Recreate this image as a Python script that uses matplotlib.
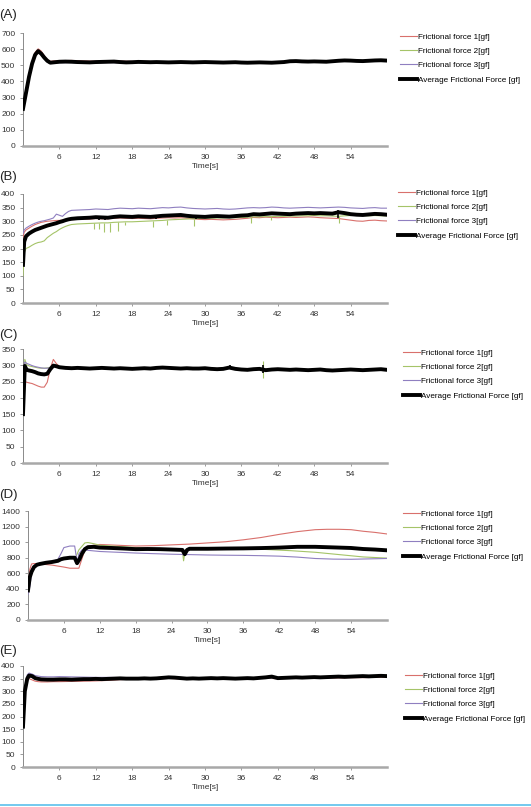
import numpy as np
import matplotlib
matplotlib.use("Agg")
import matplotlib.pyplot as plt

plt.rcParams['font.family'] = ['Liberation Sans', 'DejaVu Sans']

labels = ["Frictional force 1[gf]", "Frictional force 2[gf]", "Frictional force 3[gf]",
          "Average Frictional Force [gf]"]
colors = ["#d9706c", "#a5c468", "#8f7fc0", "#000000"]
xticks = [6, 12, 18, 24, 30, 36, 42, 48, 54]
panel_titles = ["(A)", "(B)", "(C)", "(D)", "(E)"]

# ---------------- Panel A ----------------
tA = [0, 0.5, 1, 1.5, 2, 2.5, 3, 3.5, 4, 4.5, 5] + list(range(6, 61))
A_avg = [230, 330, 430, 510, 565, 588, 572, 548, 528, 516, 518,
         522, 523, 522, 520, 519, 518, 520, 521, 522, 523, 520, 518, 519, 521, 520, 519, 520, 519,
         518, 519, 520, 519, 518, 519, 520, 519, 518, 517, 518, 519, 517, 516, 517, 518, 517, 516,
         518, 520, 525, 526, 524, 523, 524, 523, 522, 525, 528, 530, 529, 527, 526, 528, 530, 531, 529]
tA2 = [0, 0.5, 1, 1.5, 2, 2.5, 3, 3.5, 4, 4.5, 5, 6, 8, 10, 12, 14, 16, 18, 20, 22, 24, 26, 28,
       30, 32, 34, 36, 38, 40, 42, 44, 46, 48, 50, 52, 54, 56, 58, 60]
A_f1 = [240, 340, 442, 522, 580, 602, 588, 560, 536, 524, 527, 528, 530, 527, 525, 527, 526, 524,
        524, 523, 522, 523, 522, 523, 522, 521, 521, 520, 520, 521, 527, 527, 526, 526, 530, 531,
        529, 532, 531]
A_f2 = [225, 325, 425, 505, 560, 582, 566, 542, 522, 512, 514, 517, 518, 515, 516, 518, 516, 515,
        516, 516, 515, 515, 515, 516, 515, 514, 514, 513, 513, 515, 522, 521, 521, 520, 525, 526,
        524, 527, 527]
A_f3 = [228, 328, 428, 507, 562, 580, 564, 540, 520, 511, 513, 516, 517, 514, 515, 517, 515, 514,
        515, 515, 514, 514, 514, 515, 514, 513, 513, 512, 512, 514, 521, 520, 520, 519, 524, 525,
        523, 526, 526]

# ---------------- Panel B ----------------
tB = [0, 0.2, 0.5, 1, 1.5, 2, 2.5, 3, 3.5, 4, 4.5, 5, 5.5, 6, 6.5, 7, 7.5, 8] + list(range(9, 61))
B_avg = [140, 225, 245, 255, 262, 268, 272, 276, 280, 284, 287, 290, 293, 297, 300, 304, 307, 309,
         311, 312, 313, 315, 314, 313, 316, 318, 317, 316, 318, 317, 316, 318, 320, 321, 322, 323,
         320, 318, 317, 316, 318, 319, 318, 317, 319, 321, 322, 326, 325, 327, 329, 328, 327, 326,
         328, 329, 330, 329, 330, 329, 328, 333, 330, 326, 324, 323, 325, 327, 326, 324]
B_f1 = [240, 260, 268, 275, 282, 288, 292, 296, 298, 300, 301, 302, 303, 303, 304, 305, 306, 306,
        307, 308, 308, 310, 309, 309, 311, 312, 311, 310, 311, 310, 309, 311, 312, 313, 312, 313,
        311, 309, 307, 306, 307, 306, 305, 306, 307, 309, 311, 314, 313, 315, 314, 313, 314, 315,
        314, 315, 316, 315, 313, 312, 311, 310, 307, 304, 301, 300, 303, 304, 302, 301]
B_f2 = [100, 185, 200, 205, 212, 218, 222, 224, 228, 240, 248, 256, 262, 270, 276, 281, 285, 288,
        290, 291, 292, 293, 294, 294, 296, 297, 298, 298, 299, 300, 301, 302, 303, 305, 306, 307,
        308, 309, 310, 311, 311, 312, 312, 313, 313, 314, 315, 316, 316, 317, 317, 318, 318, 319,
        319, 320, 320, 321, 320, 320, 319, 318, 320, 321, 322, 321, 320, 321, 320, 320]
B_f3 = [255, 268, 275, 282, 288, 293, 297, 300, 302, 305, 308, 312, 326, 322, 318, 328, 336, 340,
        341, 342, 343, 345, 344, 343, 346, 348, 347, 346, 348, 347, 346, 348, 350, 349, 351, 352,
        349, 347, 346, 345, 346, 347, 345, 344, 345, 347, 349, 350, 349, 350, 352, 351, 349, 348,
        349, 350, 351, 350, 349, 350, 351, 352, 351, 349, 348, 347, 349, 350, 348, 348]
B_spk_t = [11.7, 12.6, 13.4, 14.3, 15.6, 16.8, 21.5, 23.8, 28.2, 37.5, 40.8, 52.1]
B_spk_lo = [270, 272, 262, 260, 265, 285, 278, 288, 283, 292, 305, 292]
B_spk_hi = [293, 294, 294, 294, 296, 297, 302, 305, 309, 316, 317, 318]
B_avg_spk_t = [12.5, 13.5, 22.0, 28.5, 52.0]
B_avg_spk_lo = [305, 304, 308, 308, 312]
B_avg_spk_hi = [318, 318, 322, 322, 340]

# ---------------- Panel C ----------------
tC = [0, 0.3, 0.6, 1, 1.5, 2, 2.5, 3, 3.5, 4, 4.5, 5, 5.5] + list(range(6, 61))
C_avg = [150, 298, 286, 284, 282, 279, 275, 273, 272, 274, 288, 299, 297,
         294, 292, 291, 292, 291, 290, 291, 292, 291, 290, 291, 290, 289, 290, 291, 290, 292, 293,
         292, 291, 290, 291, 290, 290, 291, 289, 288, 289, 293, 289, 287, 286, 288, 289, 285, 287,
         288, 287, 286, 287, 286, 285, 286, 287, 285, 284, 285, 286, 287, 286, 285, 286, 287, 288, 286]
tC2 = [0, 0.3, 0.6, 1, 1.5, 2, 2.5, 3, 3.5, 4, 4.5, 5, 5.5, 6, 8, 10, 12, 14, 16, 18, 20, 22, 24,
       26, 28, 30, 32, 34, 36, 38, 40, 42, 44, 46, 48, 50, 52, 54, 56, 58, 60]
C_f1 = [160, 250, 248, 246, 244, 240, 236, 233, 233, 248, 290, 318, 305, 296, 293, 293, 292, 293,
        292, 291, 292, 293, 293, 292, 291, 291, 290, 291, 289, 289, 288, 289, 288, 287, 287, 286,
        286, 287, 286, 287, 287]
C_f2 = [150, 318, 302, 298, 296, 294, 292, 291, 291, 292, 294, 300, 297, 294, 292, 291, 290, 291,
        290, 289, 290, 291, 291, 290, 289, 290, 288, 292, 287, 288, 286, 287, 286, 285, 286, 285,
        285, 286, 285, 286, 286]
C_f3 = [165, 310, 306, 303, 299, 296, 294, 292, 291, 291, 293, 298, 296, 294, 292, 291, 291, 291,
        290, 290, 291, 291, 292, 290, 290, 290, 289, 290, 287, 288, 286, 287, 286, 286, 286, 285,
        285, 286, 286, 286, 287]
C_spk_t = [39.5]
C_spk_lo = [262]
C_spk_hi = [312]
C_avg_spk_t = [39.5, 34.2]
C_avg_spk_lo = [275, 288]
C_avg_spk_hi = [302, 300]

# ---------------- Panel D ----------------
tD_avg = [0, 0.3, 0.6, 1, 1.5, 2, 3, 4, 5, 5.5, 6, 7, 7.8, 8.2, 8.6, 9, 9.5, 10, 11, 12, 14, 16,
          18, 20, 22, 24, 25.8, 26.2, 26.6, 27, 30, 33, 36, 39, 42, 45, 48, 50, 52, 54, 56, 58, 60]
D_avg = [380, 550, 620, 680, 710, 720, 735, 745, 760, 780, 790, 800, 800, 730, 780, 850, 910, 935,
         940, 930, 925, 918, 910, 912, 910, 905, 900, 845, 900, 915, 915, 918, 920, 924, 930, 940,
         940, 935, 930, 925, 912, 905, 895]
tD1 = [0, 0.3, 0.6, 1, 2, 4, 6, 7, 8.5, 9.5, 10, 12, 15, 18, 21, 24, 27, 30, 33, 36, 39, 42, 45,
       48, 50, 52, 54, 56, 58, 60]
D_f1 = [400, 650, 720, 725, 720, 705, 680, 665, 665, 900, 950, 970, 960, 950, 955, 965, 975, 990,
        1005, 1030, 1060, 1100, 1135, 1160, 1165, 1165, 1160, 1140, 1125, 1105]
tD2 = [0, 0.3, 0.6, 1, 2, 3, 4, 5, 6, 7, 8, 8.5, 9.5, 10, 11, 12, 15, 18, 21, 24, 25.8, 26.0,
       26.3, 28, 30, 33, 36, 40, 44, 48, 52, 56, 60]
D_f2 = [350, 500, 620, 680, 720, 740, 750, 760, 790, 800, 810, 900, 990, 995, 980, 960, 945, 930,
        920, 910, 900, 760, 900, 915, 920, 920, 920, 905, 890, 870, 840, 810, 795]
tD3 = [0, 0.3, 0.6, 1, 2, 4, 5, 5.5, 6, 7, 7.8, 8.1, 8.3, 8.5, 9, 10, 12, 15, 18, 21, 24, 27, 30,
       33, 36, 39, 42, 45, 48, 51, 54, 57, 60]
D_f3 = [330, 430, 600, 690, 720, 750, 780, 850, 930, 950, 950, 800, 760, 850, 900, 895, 880, 870,
        860, 852, 845, 840, 835, 832, 830, 826, 820, 808, 790, 782, 780, 785, 790]

# ---------------- Panel E ----------------
tE = [0, 0.3, 0.7, 1, 1.5, 2, 2.5, 3, 4, 5] + list(range(6, 61))
E_avg = [160, 300, 350, 362, 360, 352, 349, 347, 346, 346,
         347, 347, 346, 347, 348, 348, 349, 348, 349, 350, 351, 350, 350, 350, 351, 350, 351, 353,
         355, 354, 352, 350, 351, 350, 351, 352, 351, 352, 351, 350, 351, 352, 351, 353, 355, 358,
         352, 353, 354, 355, 354, 355, 356, 355, 356, 357, 358, 357, 358, 359, 360, 359, 360, 361, 360]
tE2 = [0, 0.3, 0.7, 1, 1.5, 2, 2.5, 3, 4, 5, 6, 8, 10, 12, 14, 16, 18, 20, 22, 24, 26, 28, 30, 32,
       34, 36, 38, 40, 42, 44, 46, 48, 50, 52, 54, 56, 58, 60]
E_f1 = [170, 290, 345, 350, 345, 340, 338, 337, 337, 338, 338, 339, 340, 341, 343, 346, 348, 349,
        349, 351, 349, 349, 350, 350, 349, 350, 351, 351, 350, 351, 352, 352, 353, 353, 354, 354,
        355, 356]
E_f2 = [165, 305, 360, 368, 362, 355, 352, 350, 349, 349, 350, 350, 351, 351, 351, 350, 350, 351,
        351, 354, 352, 351, 352, 351, 352, 350, 352, 353, 352, 353, 354, 355, 356, 357, 358, 359,
        360, 359]
E_f3 = [168, 310, 365, 372, 368, 362, 360, 358, 357, 357, 358, 357, 356, 355, 355, 354, 351, 351,
        351, 354, 352, 351, 352, 351, 352, 350, 352, 353, 352, 353, 354, 355, 356, 357, 358, 359,
        360, 360]

panels = [
    dict(series=[(tA2, A_f1), (tA2, A_f2), (tA2, A_f3), (tA, A_avg)], ymax=700, ystep=100, spikes=[]),
    dict(series=[(tB, B_f1), (tB, B_f2), (tB, B_f3), (tB, B_avg)], ymax=400, ystep=50,
         spikes=[(B_spk_t, B_spk_lo, B_spk_hi, 1), (B_avg_spk_t, B_avg_spk_lo, B_avg_spk_hi, 3)]),
    dict(series=[(tC2, C_f1), (tC2, C_f2), (tC2, C_f3), (tC, C_avg)], ymax=350, ystep=50,
         spikes=[(C_spk_t, C_spk_lo, C_spk_hi, 1), (C_avg_spk_t, C_avg_spk_lo, C_avg_spk_hi, 3)]),
    dict(series=[(tD1, D_f1), (tD2, D_f2), (tD3, D_f3), (tD_avg, D_avg)], ymax=1400, ystep=200, spikes=[]),
    dict(series=[(tE2, E_f1), (tE2, E_f2), (tE2, E_f3), (tE, E_avg)], ymax=400, ystep=50, spikes=[]),
]

W, H = 531, 807
fig = plt.figure(figsize=(W / 100, H / 100), dpi=100)

# pixel geometry: (left, right, top, bottom)
geo = [(23, 387, 33, 146), (23, 387, 194, 303), (23, 387, 349, 463), (28, 387, 511, 620), (23, 387, 666, 767)]
title_y = [15, 177, 335, 495, 651]
leg_xy = [(400, 33), (398, 189), (403, 349), (403, 510), (405, 672)]

for i, (p, g) in enumerate(zip(panels, geo)):
    l, r, t, b = g
    ax = fig.add_axes([l / W, 1 - b / H, (r - l) / W, (b - t) / H])
    handles = []
    for k, (tt, yy) in enumerate(p['series']):
        lw = 2.8 if k == 3 else 0.8
        h, = ax.plot(tt, yy, color=colors[k], lw=lw, label=labels[k], zorder=3 + (k == 3))
        handles.append(h)
    for st, slo, shi, ci in p['spikes']:
        ax.vlines(st, slo, shi, color=colors[1] if ci == 1 else colors[3],
                  lw=0.8 if ci == 1 else 1.2, zorder=3 + (ci == 3))
    ax.set_xlim(0, 60)
    ax.set_ylim(0, p['ymax'])
    ax.set_yticks(np.arange(0, p['ymax'] + 1, p['ystep']))
    ax.set_xticks(xticks)
    ax.tick_params(axis='both', labelsize=6, colors='#8a8a8a', labelcolor='#333333', length=2.5, width=0.6, pad=3)
    for s in ['top', 'right']:
        ax.spines[s].set_visible(False)
    ax.spines['left'].set_color('#8a8a8a')
    ax.spines['left'].set_linewidth(0.7)
    ax.spines['bottom'].set_color('#a8a8a8')
    ax.spines['bottom'].set_linewidth(1.8)
    ax.set_xlabel("Time[s]", fontsize=6, color='#333333', labelpad=2.0)
    fig.text(-1 / W, 1 - title_y[i] / H, panel_titles[i], fontsize=9.5, va='center', ha='left', color='#222222')
    lx, ly = leg_xy[i]
    ax.legend(handles=handles, loc='upper left', bbox_to_anchor=(lx / W, 1 - ly / H),
              bbox_transform=fig.transFigure, frameon=False, fontsize=5.9, handlelength=2.1,
              handletextpad=0.15, labelspacing=0.8, borderpad=0, borderaxespad=0)

# bottom cyan rule
fig.add_artist(plt.Line2D([0, 1], [1 - 805 / H, 1 - 805 / H], color='#5bc0eb', lw=1.2))

fig.savefig("out.png", dpi=100)
